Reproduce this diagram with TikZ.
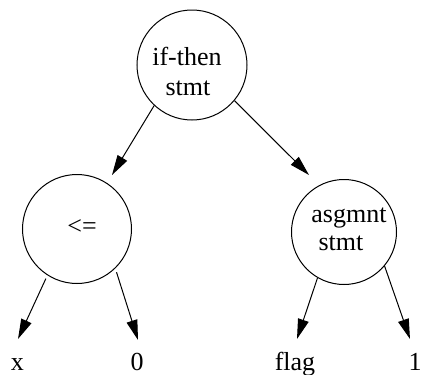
\documentclass[tikz,border=0pt]{standalone}
\usepackage{fontspec}
\setmainfont{Liberation Serif}
\usetikzlibrary{arrows.meta}
\begin{document}
\begin{tikzpicture}[x=1pt,y=-1pt,
  ring/.style={circle,draw,line width=1pt,inner sep=0pt},
  txt/.style={inner sep=0pt,anchor=base,font=\fontsize{26}{30}\selectfont},
  arr/.style={line width=1pt,-{Triangle[length=20pt,width=11pt]}}]
\useasboundingbox (0,0) rectangle (424,375);
% circles
\node[ring,minimum size=110pt] (top) at (192,65) {};
\node[ring,minimum size=109pt] (lt) at (77,229) {};
\node[ring,minimum size=105pt] (rt) at (344,232) {};
% circle texts
\node[txt] (t1) at (187,65) {if-then};
\node[txt] (t2) at (188,95) {stmt};
\node[txt] (t3) at (82,234) {<=};
\node[txt] (t4) at (349,222) {asgmnt};
\node[txt] (t5) at (341,250) {stmt};
% leaf labels
\node[txt] (lx) at (17.5,370.5) {x};
\node[txt] (l0) at (137,370.5) {0};
\node[txt] (lf) at (295,370.5) {flag};
\node[txt] (l1) at (415,370.5) {1};
% arrow tips
\coordinate (tipL) at (112,175);
\coordinate (tipR) at (309,175);
\coordinate (tipx) at (18,339);
\coordinate (tip0) at (138,340);
\coordinate (tipf) at (297,339);
\coordinate (tip1) at (410,339);
% connectors
\draw[arr] (top.227) -- (tipL);
\draw[arr] (top.320) -- (tipR);
\draw[arr] ([shift={(-2,3)}]lt.238) -- (tipx);
\draw[arr] ([shift={(2,3)}]lt.313) -- (tip0);
\draw[arr] (rt.240) -- (tipf);
\draw[arr] (rt.320) -- (tip1);
\end{tikzpicture}
\end{document}
